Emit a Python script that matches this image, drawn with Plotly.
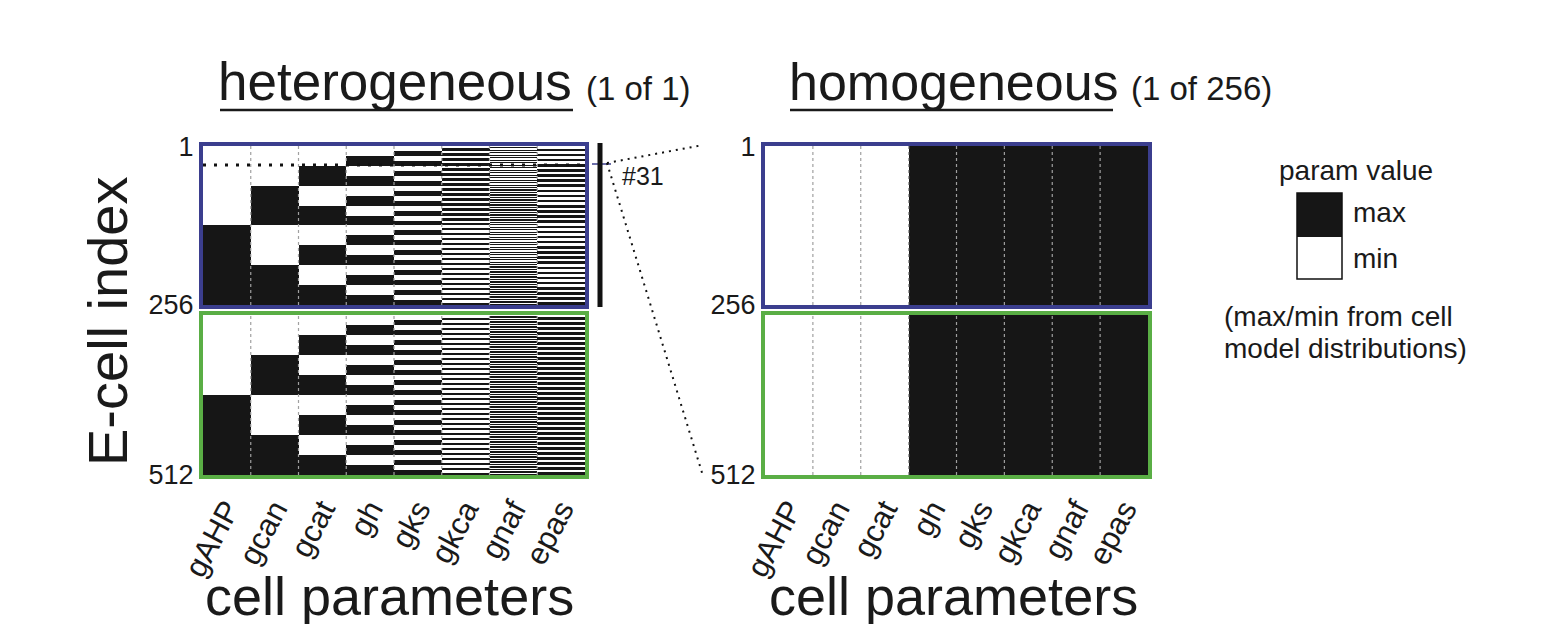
import plotly.graph_objects as go

# ---------------- data ----------------
params = ["gAHP", "gcan", "gcat", "gh", "gks", "gkca", "gnaf", "epas"]
# heterogeneous population: each parameter alternates min/max in runs of this many rows
# (starting with min at row 1), pattern repeated in both 256-cell blocks
het_run_rows = [128, 64, 32, 16, 8, 4, 2, 1]
# homogeneous population: one cell type (#31) replicated -> min(0) / max(1) per parameter
hom_values = [0, 0, 0, 1, 1, 1, 1, 1]
block_rows = 256
y_tick_vals_top = [1, 256]
y_tick_vals_bot = [512]
selected_row = 31

# ---------------- build matrices ----------------
def het_block():
    return [[(r // run) % 2 for run in het_run_rows] for r in range(block_rows)]

def hom_block():
    return [list(hom_values) for _ in range(block_rows)]

rows_top = list(range(1, block_rows + 1))
rows_bot = list(range(block_rows + 1, 2 * block_rows + 1))

# page has an 8px body margin: draw a figure that fills the rest of the window
OFF = 8
W, H = 1557 - OFF, 624 - OFF
def PX(x): return (x - OFF) / W
def PY(y): return 1 - (y - OFF) / H

BLUE = "#3b3e8e"
GREEN = "#5aae45"
BLACK = "#161616"
TXT = "#1a1a1a"
FONT = "Liberation Sans, Arial, sans-serif"

fig = go.Figure()
cs = [[0, "#ffffff"], [1, BLACK]]
panels = [
    ("x", "y", het_block(), rows_top),
    ("x2", "y2", het_block(), rows_bot),
    ("x3", "y3", hom_block(), rows_top),
    ("x4", "y4", hom_block(), rows_bot),
]
for xa, ya, z, yy in panels:
    fig.add_trace(go.Heatmap(z=z, x=params, y=yy, xaxis=xa, yaxis=ya,
                             colorscale=cs, zmin=0, zmax=1, showscale=False,
                             hoverinfo="skip"))

xl = [PX(203), PX(585)]
xr = [PX(765), PX(1148)]
yt = [PY(305), PY(146)]
yb = [PY(475), PY(315)]

def xax(dom, anchor, color, showlabels):
    return dict(domain=dom, anchor=anchor, range=[-0.5, 7.5], showline=True, mirror=True,
                linecolor=color, linewidth=4, showgrid=False, zeroline=False,
                ticks="", showticklabels=showlabels, tickangle=-62, automargin=False,
                tickfont=dict(size=31, color=TXT, family=FONT), fixedrange=True)

def yax(dom, anchor, color, rng, tv):
    return dict(domain=dom, anchor=anchor, range=rng, showline=True, mirror=True,
                linecolor=color, linewidth=4, showgrid=False, zeroline=False,
                ticks="", tickvals=tv, ticktext=[str(v) for v in tv], automargin=False,
                tickfont=dict(size=27, color=TXT, family=FONT), fixedrange=True)

top_rng = [block_rows + 0.5, 0.5]
bot_rng = [2 * block_rows + 0.5, block_rows + 0.5]
fig.update_layout(
    xaxis=xax(xl, "y", BLUE, False),
    yaxis=yax(yt, "x", BLUE, top_rng, y_tick_vals_top),
    xaxis2=xax(xl, "y2", GREEN, True),
    yaxis2=yax(yb, "x2", GREEN, bot_rng, y_tick_vals_bot),
    xaxis3=xax(xr, "y3", BLUE, False),
    yaxis3=yax(yt, "x3", BLUE, top_rng, y_tick_vals_top),
    xaxis4=xax(xr, "y4", GREEN, True),
    yaxis4=yax(yb, "x4", GREEN, bot_rng, y_tick_vals_bot),
)

shapes = []
# dotted column separators
for xa in ["x", "x2", "x3", "x4"]:
    ya = "y" + xa[1:]
    for k in range(len(params) - 1):
        shapes.append(dict(type="line", xref=xa, yref=ya + " domain", x0=k + 0.5, x1=k + 0.5,
                           y0=0, y1=1, line=dict(color="#a0a0a0", width=1.2, dash="dot"),
                           layer="above"))
# selected row marker (#31)
shapes.append(dict(type="line", xref="x", yref="y", x0=-0.5, x1=7.5, y0=selected_row, y1=selected_row,
                   line=dict(color="#111111", width=3, dash="3px,8px"), layer="above"))
shapes.append(dict(type="line", xref="paper", yref="paper", x0=PX(592), x1=PX(611),
                   y0=PY(164), y1=PY(164), line=dict(color=BLUE, width=1.5)))
# vertical bar spanning population 1
shapes.append(dict(type="line", xref="paper", yref="paper", x0=PX(600), x1=PX(600),
                   y0=PY(143), y1=PY(307), line=dict(color="#111111", width=5)))
# zoom lines to homogeneous panel
shapes.append(dict(type="line", xref="paper", yref="paper", x0=PX(607), x1=PX(703),
                   y0=PY(163), y1=PY(145), line=dict(color="#111111", width=2, dash="2px,5px")))
shapes.append(dict(type="line", xref="paper", yref="paper", x0=PX(607), x1=PX(703),
                   y0=PY(163), y1=PY(476), line=dict(color="#111111", width=2, dash="2px,5px")))
# title underlines
shapes.append(dict(type="line", xref="paper", yref="paper", x0=PX(220), x1=PX(573),
                   y0=PY(110), y1=PY(110), line=dict(color=TXT, width=2.5)))
shapes.append(dict(type="line", xref="paper", yref="paper", x0=PX(790), x1=PX(1113),
                   y0=PY(110), y1=PY(110), line=dict(color=TXT, width=2.5)))
# legend swatches
shapes.append(dict(type="rect", xref="paper", yref="paper", x0=PX(1297), x1=PX(1342),
                   y0=PY(237), y1=PY(193), fillcolor=BLACK, line=dict(width=0)))
shapes.append(dict(type="rect", xref="paper", yref="paper", x0=PX(1297), x1=PX(1342),
                   y0=PY(279), y1=PY(193), fillcolor="rgba(0,0,0,0)",
                   line=dict(color="#111111", width=1.5)))

ann = []
def txt(t, x, y, size, xanchor="left", angle=0):
    ann.append(dict(text=t, x=PX(x), y=PY(y), xref="paper", yref="paper", showarrow=False,
                    xanchor=xanchor, yanchor="middle", textangle=angle,
                    font=dict(size=size, color=TXT, family=FONT)))

txt("heterogeneous", 216, 82, 53)
txt("(1 of 1)", 584, 88, 33)
txt("homogeneous", 787, 82, 52)
txt("(1 of 256)", 1129, 88, 33)
txt("E-cell index", 107, 322, 56, xanchor="center", angle=-90)
txt("cell parameters", 389, 596, 54, xanchor="center")
txt("cell parameters", 953, 596, 54, xanchor="center")
txt("#31", 620, 176, 25)
txt("param value", 1356, 170, 28, xanchor="center")
txt("max", 1351, 212, 28)
txt("min", 1351, 258, 28)
txt("(max/min from cell", 1222, 316, 28)
txt("model distributions)", 1222, 348, 28)

fig.update_layout(width=W, height=H, margin=dict(l=0, r=0, t=0, b=0, autoexpand=False),
                  paper_bgcolor="white", plot_bgcolor="white",
                  shapes=shapes, annotations=ann, showlegend=False,
                  font=dict(family=FONT, color=TXT))

fig.write_html("out.html")
